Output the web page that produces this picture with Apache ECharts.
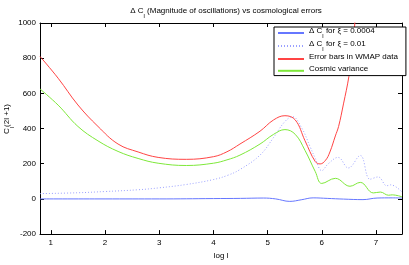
<!DOCTYPE html>
<html><head><meta charset="utf-8">
<script src="https://cdn.jsdelivr.net/npm/echarts@6/dist/echarts.min.js"></script>
<style>html,body{margin:0;padding:0;background:#fff}#c{width:409px;height:265px}</style>
</head><body><div id="c"></div>
<script>
// ---- data ----
const xTicks = [1, 2, 3, 4, 5, 6, 7];
const yTicks = [-200, 0, 200, 400, 600, 800, 1000];

const solidX = [0.8, 2.0, 3.0, 4.0, 4.5, 4.92, 5.15, 5.41, 5.62, 5.84, 6.1, 6.4, 6.76, 7.02, 7.3, 7.48];
const solidY = [0, 0, 0, 2, 3, 5, 0, -14, -5, 6, 3, -1, -4, 5, 6, 5];

const dotX = [0.8, 1.5, 2.0, 2.61, 3.0, 3.5, 4.0, 4.27, 4.49, 4.86, 5.11, 5.32, 5.46, 5.63, 5.78, 5.88, 6.0, 6.12, 6.30, 6.49, 6.71, 6.89, 7.04, 7.20, 7.27, 7.48];
const dotY = [30, 35, 42, 52, 63, 82, 110, 135, 167, 249, 349, 440, 467, 403, 300, 230, 161, 200, 236, 176, 247, 112, 125, 75, 80, 39];

const redX = [0.8, 1.135, 1.5, 1.87, 2.24, 2.61, 2.98, 3.5, 4.0, 4.25, 4.49, 4.86, 5.11, 5.32, 5.51, 5.69, 5.88, 5.97, 6.07, 6.15, 6.25, 6.31, 6.40, 6.50, 6.56, 6.61, 6.66];
const redY = [810, 686, 534, 412, 312, 267, 236, 225, 240, 268, 312, 385, 449, 473, 449, 331, 212, 199, 220, 267, 358, 412, 540, 696, 840, 1000, 1200];

const greenX = [0.8, 1.135, 1.5, 1.87, 2.24, 2.61, 2.98, 3.5, 4.0, 4.25, 4.49, 4.86, 5.11, 5.32, 5.51, 5.69, 5.88, 6.0, 6.25, 6.52, 6.71, 6.95, 7.08, 7.23, 7.30, 7.48];
const greenY = [625, 533, 412, 330, 270, 230, 203, 190, 203, 222, 249, 312, 367, 394, 367, 276, 155, 88, 117, 72, 94, 34, 39, 21, 23, 12];

const seriesNames = ['Δ Cl for ξ = 0.0004', 'Δ Cl for ξ = 0.01', 'Error bars in WMAP data', 'Cosmic variance'];
const titleText = 'Δ Cl (Magnitude of oscillations) vs cosmological errors';

// ---- build ----
const zip = (xs, ys) => xs.map((x, i) => [x, ys[i]]);
const FONT = 'Liberation Sans';
const sub = s => {
  const i = s.indexOf('Cl');
  if (i < 0) return '{b|' + s + '}';
  return '{b|' + s.slice(0, i) + 'C}{s|l}{b|' + s.slice(i + 2) + '}';
};
const rich = {
  b: { fontFamily: FONT, fontSize: 8, fontWeight: 'normal', color: '#000', lineHeight: 12, verticalAlign: 'top' },
  s: { fontFamily: FONT, fontSize: 6, fontWeight: 'normal', color: '#000', lineHeight: 6, verticalAlign: 'bottom' }
};
const axisCommon = {
  axisLine: { show: true, onZero: false, lineStyle: { color: '#000', width: 1 } },
  axisTick: { show: true, inside: true, length: 4, lineStyle: { color: '#000' } },
  splitLine: { show: false }
};
const chart = echarts.init(document.getElementById('c'), null, { renderer: 'canvas' });
const mk = (name, xs, ys, color, type) => ({
  name, type: 'line', data: zip(xs, ys), smooth: 0.4, symbol: 'none', showSymbol: false,
  lineStyle: { color, width: 1, type }, itemStyle: { color }, animation: false, clip: true
});
chart.setOption({
  animation: false,
  grid: { left: 40, right: 7, top: 23, bottom: 24 },
  title: {
    text: sub(titleText), left: 221, top: 2, textAlign: 'center',
    textStyle: { rich, fontWeight: 'normal' }
  },
  legend: {
    orient: 'vertical', left: 274, top: 27, width: 122,
    backgroundColor: '#fff', borderColor: '#000', borderWidth: 1, borderRadius: 0,
    padding: [0, 8, 0, 3], itemGap: 1, itemWidth: 26, itemHeight: 12,
    itemStyle: { opacity: 0 },
    formatter: n => sub(n),
    textStyle: { rich }
  },
  xAxis: [
    Object.assign({}, axisCommon, {
      type: 'value', min: 0.8, max: 7.48, position: 'bottom',
      axisTick: Object.assign({}, axisCommon.axisTick, { customValues: xTicks }),
      axisLabel: { customValues: xTicks, fontFamily: FONT, fontSize: 8, color: '#000', margin: 5 },
      name: 'log l', nameLocation: 'middle', nameGap: 15,
      nameTextStyle: { fontFamily: FONT, fontSize: 8, color: '#000' }
    }),
    Object.assign({}, axisCommon, {
      type: 'value', min: 0.8, max: 7.48, position: 'top',
      axisTick: Object.assign({}, axisCommon.axisTick, { customValues: xTicks }),
      axisLabel: { show: false }
    })
  ],
  yAxis: [
    Object.assign({}, axisCommon, {
      type: 'value', min: -200, max: 1000, interval: 200, position: 'left',
      axisLabel: { fontFamily: FONT, fontSize: 8, color: '#000', margin: 4, formatter: v => String(v) }
    }),
    Object.assign({}, axisCommon, {
      type: 'value', min: -200, max: 1000, interval: 200, position: 'right',
      axisLabel: { show: false }
    })
  ],
  graphic: [{
    type: 'text', x: 9, y: 119, rotation: Math.PI / 2,
    style: { text: '{b|C}{s|l}{b|(2l +1)}', rich, align: 'center', verticalAlign: 'middle' }
  }],
  series: [
    mk(seriesNames[0], solidX, solidY, '#6677ff', 'solid'),
    mk(seriesNames[1], dotX, dotY, '#9aa0ff', [1, 2]),
    mk(seriesNames[2], redX, redY, '#ff4444', 'solid'),
    mk(seriesNames[3], greenX, greenY, '#7ee83a', 'solid')
  ]
});
</script></body></html>
